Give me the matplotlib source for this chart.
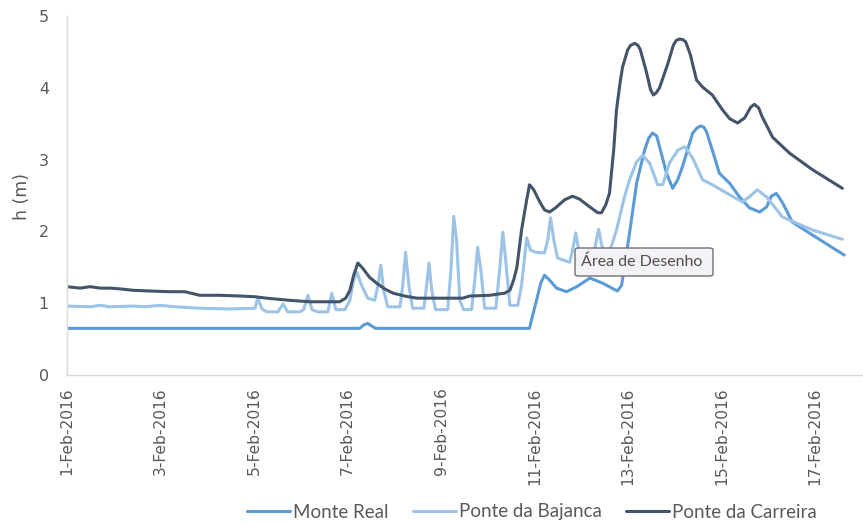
import numpy as np
import matplotlib
matplotlib.use("Agg")
import matplotlib.pyplot as plt
import matplotlib.dates as mdates
from matplotlib.patches import FancyBboxPatch

# ---------------- data (day of February 2016, level in m) ----------------
carreira_day = [1.00, 1.28, 1.49, 1.71, 1.92, 2.13, 2.41, 2.77, 3.20, 3.52, 3.84, 4.27, 4.70, 5.02,
                5.27, 5.76, 6.19, 6.62, 6.83, 6.96, 7.05, 7.13, 7.22, 7.32, 7.47, 7.62, 7.79, 7.97,
                8.22, 8.48, 8.97, 9.46, 9.61, 10.04, 10.36, 10.47, 10.55, 10.62, 10.72, 10.83, 10.89,
                10.98, 11.11, 11.21, 11.32, 11.45, 11.64, 11.81, 11.96, 12.18, 12.35, 12.43, 12.52,
                12.60, 12.69, 12.75, 12.82, 12.88, 12.99, 13.05, 13.14, 13.21, 13.26, 13.39, 13.48,
                13.54, 13.60, 13.67, 13.84, 13.97, 14.03, 14.10, 14.17, 14.23, 14.33, 14.46, 14.59,
                14.80, 15.02, 15.17, 15.34, 15.49, 15.62, 15.70, 15.79, 15.87, 16.09, 16.45, 16.94,
                17.58]
carreira_h = [1.23, 1.21, 1.23, 1.21, 1.21, 1.20, 1.18, 1.17, 1.16, 1.16, 1.11, 1.11, 1.10, 1.09,
              1.07, 1.04, 1.02, 1.02, 1.02, 1.07, 1.18, 1.39, 1.56, 1.49, 1.36, 1.28, 1.20, 1.14,
              1.10, 1.07, 1.07, 1.07, 1.10, 1.11, 1.14, 1.18, 1.32, 1.50, 2.02, 2.44, 2.65,
              2.58, 2.41, 2.30, 2.27, 2.33, 2.44, 2.49, 2.45, 2.34, 2.26, 2.26, 2.37,
              2.53, 3.13, 3.69, 4.04, 4.29, 4.53, 4.59, 4.62, 4.59, 4.53, 4.22, 3.97,
              3.90, 3.93, 4.00, 4.32, 4.60, 4.66, 4.68, 4.67, 4.64, 4.46, 4.11, 4.01,
              3.90, 3.69, 3.57, 3.51, 3.58, 3.73, 3.77, 3.72, 3.59, 3.31, 3.09, 2.86,
              2.60]

monte_day = [1.00, 3.84, 7.26, 7.35, 7.43, 7.52, 7.60, 10.89, 10.96, 11.04, 11.13, 11.21, 11.32,
             11.47, 11.68, 11.90, 12.18, 12.45, 12.65, 12.77, 12.86, 12.94, 13.03, 13.18, 13.35,
             13.44, 13.52, 13.61, 13.67, 13.82, 13.95, 14.06, 14.16, 14.38, 14.47, 14.55, 14.62,
             14.68, 14.80, 14.95, 15.17, 15.38, 15.59, 15.81, 15.96, 16.06, 16.17, 16.30, 16.51,
             16.94, 17.62]
monte_h = [0.65, 0.65, 0.65, 0.70, 0.72, 0.68, 0.65, 0.65, 0.84, 1.04, 1.28, 1.39, 1.32,
           1.21, 1.16, 1.23, 1.35, 1.28, 1.21, 1.17, 1.25, 1.60, 1.98, 2.67, 3.13,
           3.30, 3.37, 3.33, 3.18, 2.81, 2.60, 2.72, 2.90, 3.37, 3.44, 3.47, 3.45,
           3.38, 3.13, 2.81, 2.67, 2.48, 2.33, 2.27, 2.34, 2.49, 2.53, 2.40, 2.13,
           1.95, 1.67]

bajanca_day = [1.00, 1.49, 1.71, 1.92, 2.41, 2.67, 2.99, 3.31, 3.84, 4.48, 5.02, 5.08, 5.17, 5.27,
               5.51, 5.62, 5.72, 5.98, 6.06, 6.15, 6.24, 6.36, 6.58, 6.66, 6.75, 6.94, 7.05, 7.13,
               7.20, 7.30, 7.43, 7.58, 7.65, 7.71, 7.77, 7.86, 8.12, 8.18, 8.24, 8.31, 8.39, 8.63,
               8.69, 8.74, 8.80, 8.88, 9.14, 9.21, 9.27, 9.33, 9.40, 9.48, 9.65, 9.72, 9.78, 9.85,
               9.93, 10.17, 10.25, 10.32, 10.38, 10.47, 10.64, 10.72, 10.83, 10.91, 11.02, 11.21,
               11.28, 11.34, 11.41, 11.49, 11.75, 11.81, 11.88, 11.94, 12.03, 12.24, 12.30, 12.37,
               12.43, 12.54, 12.65, 12.75, 12.92, 13.03, 13.18, 13.31, 13.46, 13.63, 13.74, 13.88,
               14.06, 14.21, 14.38, 14.59, 14.80, 15.17, 15.44, 15.59, 15.76, 15.96, 16.30, 16.94,
               17.58]
bajanca_h = [0.96, 0.95, 0.97, 0.95, 0.96, 0.95, 0.97, 0.95, 0.93, 0.92, 0.93, 1.07, 0.92, 0.88,
             0.88, 0.99, 0.88, 0.88, 0.91, 1.11, 0.91, 0.88, 0.88, 1.14, 0.91, 0.91, 1.04, 1.32,
             1.43, 1.25, 1.07, 1.04, 1.25, 1.53, 1.18, 0.95, 0.95, 1.25, 1.71, 1.25, 0.93, 0.93,
             1.25, 1.56, 1.18, 0.91, 0.91, 1.46, 2.21, 1.88, 1.04, 0.91, 0.91, 1.32, 1.78, 1.46,
             0.93, 0.93, 1.46, 1.99, 1.60, 0.97, 0.97, 1.25, 1.91, 1.74, 1.71, 1.70,
             1.88, 2.19, 1.88, 1.63, 1.57, 1.74, 1.98, 1.74, 1.57, 1.57, 1.81, 2.03,
             1.81, 1.67, 1.81, 2.02, 2.48, 2.72, 2.97, 3.06, 2.95, 2.65, 2.65, 2.95,
             3.13, 3.18, 3.02, 2.72, 2.65, 2.51, 2.41, 2.48, 2.58, 2.48, 2.20, 2.02,
             1.89]

series_names = ["Monte Real", "Ponte da Bajanca", "Ponte da Carreira"]
series_colors = ["#5B9BD5", "#9DC3E6", "#44546A"]

tick_days = [1, 3, 5, 7, 9, 11, 13, 15, 17]
tick_labels = ["1-Feb-2016", "3-Feb-2016", "5-Feb-2016", "7-Feb-2016", "9-Feb-2016",
               "11-Feb-2016", "13-Feb-2016", "15-Feb-2016", "17-Feb-2016"]
y_ticks = [0, 1, 2, 3, 4, 5]

# ---------------- helpers ----------------
base = mdates.date2num(np.datetime64("2016-02-01T00:00"))


def to_dates(days):
    return base + (np.asarray(days, dtype=float) - 1.0)


W, H = 863, 524
fig = plt.figure(figsize=(W / 100, H / 100), dpi=100)
ax = fig.add_axes([67 / W, 1 - 375 / H, (862 - 67) / W, (375 - 16) / H])

lw = 2.2
for d, h, name, c in [(monte_day, monte_h, series_names[0], series_colors[0]),
                      (bajanca_day, bajanca_h, series_names[1], series_colors[1]),
                      (carreira_day, carreira_h, series_names[2], series_colors[2])]:
    ax.plot(to_dates(d), h, color=c, lw=lw, label=name,
            solid_joinstyle="round", solid_capstyle="round")

ax.set_xlim(to_dates([1.0])[0], to_dates([18.0])[0])
ax.set_ylim(0, 5)
ax.set_xticks(to_dates(tick_days))
ax.set_xticklabels(tick_labels, rotation=90, family=["DejaVu Sans"],
                   fontsize=11.2, color="#595959")
ax.set_yticks(y_ticks)
ax.set_yticklabels([str(v) for v in y_ticks], family=["DejaVu Sans"],
                   fontsize=11.5, color="#595959")
ax.tick_params(axis="x", length=0, pad=9)
ax.tick_params(axis="y", length=0, pad=13)

for s in ["top", "right"]:
    ax.spines[s].set_visible(False)
for s in ["left", "bottom"]:
    ax.spines[s].set_color("#D9D9D9")
    ax.spines[s].set_linewidth(1.0)

fig.text(22 / W, 1 - 197 / H, "h (m)", rotation=90, ha="center", va="center",
         fontsize=12.5, color="#595959", family=["DejaVu Sans"])

leg = fig.legend(loc="center", bbox_to_anchor=(532 / W, 1 - 512 / H), ncol=3, frameon=False,
                 handlelength=2.3, handletextpad=0.15, columnspacing=1.3,
                 prop={"family": ["Lato", "DejaVu Sans"], "size": 13.5})
for t in leg.get_texts():
    t.set_color("#595959")

# tooltip-like box
box = FancyBboxPatch((575 / W, 1 - 276 / H), 138 / W, 28 / H,
                     boxstyle="round,pad=0,rounding_size=0.004",
                     transform=fig.transFigure, facecolor="#F2F2F7",
                     edgecolor="#707070", linewidth=1.0, zorder=10)
fig.add_artist(box)
fig.text(642 / W, 1 - 262 / H, "Área de Desenho", ha="center", va="center",
         fontsize=11.5, color="#574E47", family=["Lato", "DejaVu Sans"], zorder=11)

fig.savefig("out.png", dpi=100)
